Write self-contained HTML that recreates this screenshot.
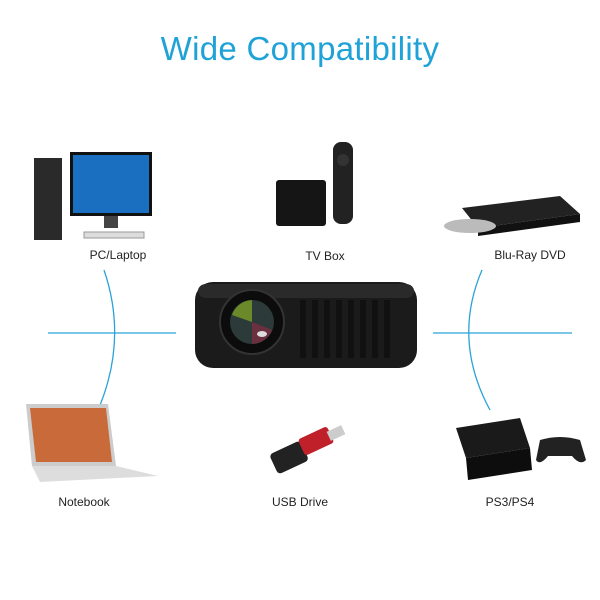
<!DOCTYPE html>
<html><head><style>
body{margin:0;width:600px;height:600px;background:#fff;overflow:hidden;position:relative;font-family:"Liberation Sans",sans-serif}
.t{position:absolute;left:0;width:600px;top:30px;text-align:center;font-size:33px;color:#1ea2d8;font-weight:300;letter-spacing:0.3px}
.l{position:absolute;font-size:12px;color:#222;transform:translateX(-50%);white-space:nowrap}
</style></head><body>
<div class="t">Wide Compatibility</div>
<svg width="600" height="600" style="position:absolute;left:0;top:0">
<g stroke="#2aa3d8" stroke-width="1.3" fill="none">
<line x1="48" y1="333" x2="176" y2="333"/>
<line x1="433" y1="333" x2="572" y2="333"/>
<path d="M104 270 Q128 340 98 410"/>
<path d="M482 270 Q452 340 490 410"/>
</g>
<!-- projector -->
<rect x="195" y="282" width="222" height="86" rx="18" fill="#1b1b1b"/>
<rect x="198" y="284" width="216" height="14" rx="8" fill="#2a2a2a"/>
<g fill="#111">
<rect x="300" y="300" width="6" height="58"/><rect x="312" y="300" width="6" height="58"/><rect x="324" y="300" width="6" height="58"/><rect x="336" y="300" width="6" height="58"/><rect x="348" y="300" width="6" height="58"/><rect x="360" y="300" width="6" height="58"/><rect x="372" y="300" width="6" height="58"/><rect x="384" y="300" width="6" height="58"/>
</g>
<circle cx="252" cy="322" r="32" fill="#0c0c0c" stroke="#333" stroke-width="2"/>
<circle cx="252" cy="322" r="22" fill="#2c3a3a"/>
<path d="M232 315 A22 22 0 0 1 252 300 L252 322Z" fill="#6a8a2a"/>
<path d="M252 344 A22 22 0 0 0 272 330 L252 322Z" fill="#6a3040"/>
<ellipse cx="262" cy="334" rx="5" ry="3" fill="#ddd"/>
<!-- PC -->
<rect x="34" y="158" width="28" height="82" fill="#2a2a2a"/>
<rect x="70" y="152" width="82" height="64" fill="#111"/>
<rect x="73" y="155" width="76" height="58" fill="#1a6fc0"/>
<rect x="104" y="216" width="14" height="12" fill="#444"/>
<rect x="84" y="232" width="60" height="6" fill="#ddd" stroke="#999"/>
<!-- TV box -->
<rect x="276" y="180" width="50" height="46" rx="3" fill="#151515"/>
<rect x="333" y="142" width="20" height="82" rx="8" fill="#222"/>
<circle cx="343" cy="160" r="6" fill="#333"/>
<!-- Blu-ray -->
<polygon points="462,208 560,196 580,214 478,228" fill="#222"/>
<polygon points="478,228 580,214 580,222 478,236" fill="#111"/>
<ellipse cx="470" cy="226" rx="26" ry="7" fill="#bbb"/>
<!-- notebook -->
<polygon points="26,404 108,404 116,466 32,466" fill="#ccc"/>
<polygon points="30,408 106,408 112,462 36,462" fill="#c96a3a"/>
<polygon points="32,466 116,466 158,476 40,482" fill="#ddd"/>
<!-- USB -->
<rect x="272" y="446" width="34" height="22" rx="4" fill="#222" transform="rotate(-25 290 457)"/>
<rect x="300" y="432" width="32" height="18" rx="3" fill="#c0202a" transform="rotate(-25 316 441)"/>
<rect x="328" y="428" width="16" height="10" fill="#ccc" transform="rotate(-25 336 433)"/>
<!-- PS4 -->
<polygon points="456,428 520,418 530,448 466,458" fill="#1a1a1a"/>
<polygon points="466,458 530,448 532,470 468,480" fill="#0d0d0d"/>
<path d="M540 440 Q560 434 580 440 L586 460 Q580 466 572 456 L548 456 Q540 466 536 460Z" fill="#222"/>
</svg>
<div class="l" style="left:118px;top:248px">PC/Laptop</div>
<div class="l" style="left:325px;top:249px">TV Box</div>
<div class="l" style="left:530px;top:248px">Blu-Ray DVD</div>
<div class="l" style="left:84px;top:495px">Notebook</div>
<div class="l" style="left:300px;top:495px">USB Drive</div>
<div class="l" style="left:510px;top:495px">PS3/PS4</div>
</body></html>
